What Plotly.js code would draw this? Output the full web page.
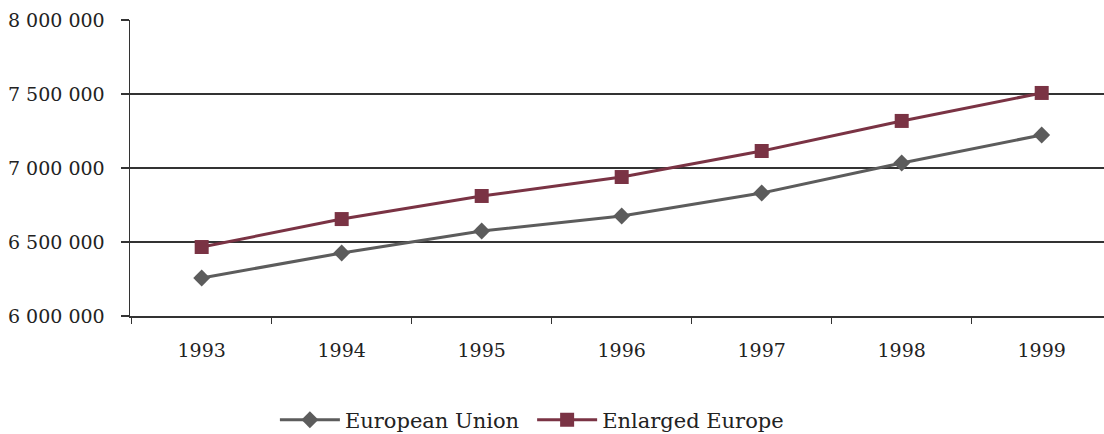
<!DOCTYPE html>
<html>
<head>
<meta charset="utf-8">
<script src="https://cdn.plot.ly/plotly-3.0.1.min.js"></script>
<style>html,body{margin:0;padding:0;background:#fff;}#chart{width:1104px;height:434px;}</style>
</head>
<body>
<div id="chart"></div>
<script>
const years = ["1993", "1994", "1995", "1996", "1997", "1998", "1999"];
const europeanUnion = [6257000, 6426000, 6574000, 6676000, 6831000, 7034000, 7223000];
const enlargedEurope = [6466000, 6655000, 6811000, 6939000, 7115000, 7318000, 7507000];
const yTicks = [6000000, 6500000, 7000000, 7500000, 8000000];

const serif = "'DejaVu Serif', 'Liberation Serif', serif";

const traces = [
  {
    x: years, y: europeanUnion, name: "European Union", type: "scatter", mode: "lines+markers",
    legend: "legend",
    line: {color: "#5c5c5c", width: 3},
    marker: {symbol: "diamond", size: 13, color: "#5c5c5c"}
  },
  {
    x: years, y: enlargedEurope, name: "Enlarged Europe", type: "scatter", mode: "lines+markers",
    legend: "legend2",
    line: {color: "#7a3344", width: 3},
    marker: {symbol: "square", size: 14, color: "#7a3344"}
  }
];

const legendBase = {
  orientation: "h", xref: "container", yref: "container",
  xanchor: "left", y: 0.032, yanchor: "middle",
  font: {family: serif, size: 21, color: "#222"},
  itemwidth: 60, borderwidth: 0, bgcolor: "rgba(0,0,0,0)"
};

const layout = {
  width: 1104, height: 434,
  margin: {l: 130, r: 0, t: 20, b: 118},
  paper_bgcolor: "#ffffff", plot_bgcolor: "#ffffff",
  separators: ". ",
  font: {family: serif, size: 19, color: "#222"},
  showlegend: true,
  legend: Object.assign({}, legendBase, {x: 0.249}),
  legend2: Object.assign({}, legendBase, {x: 0.482}),
  xaxis: {
    type: "category", range: [-0.512, 6.445],
    showgrid: false, zeroline: false,
    showline: true, linecolor: "#333", linewidth: 1.5,
    ticks: "outside", tickson: "boundaries", ticklen: 6, tickcolor: "#333", tickwidth: 1.5,
    ticklabelstandoff: 17,
    tickfont: {family: serif, size: 19, color: "#222"}
  },
  yaxis: {
    range: [6000000, 8000000], tickvals: yTicks, tickformat: ",d",
    showgrid: true, gridcolor: "#333", gridwidth: 1.5,
    zeroline: false, showline: true, linecolor: "#333", linewidth: 1.5,
    ticks: "outside", ticklen: 8, tickcolor: "#333", tickwidth: 1.5,
    ticklabelstandoff: 12,
    tickfont: {family: serif, size: 19, color: "#222"}
  }
};

Plotly.newPlot("chart", traces, layout, {displayModeBar: false, staticPlot: true});
</script>
</body>
</html>
